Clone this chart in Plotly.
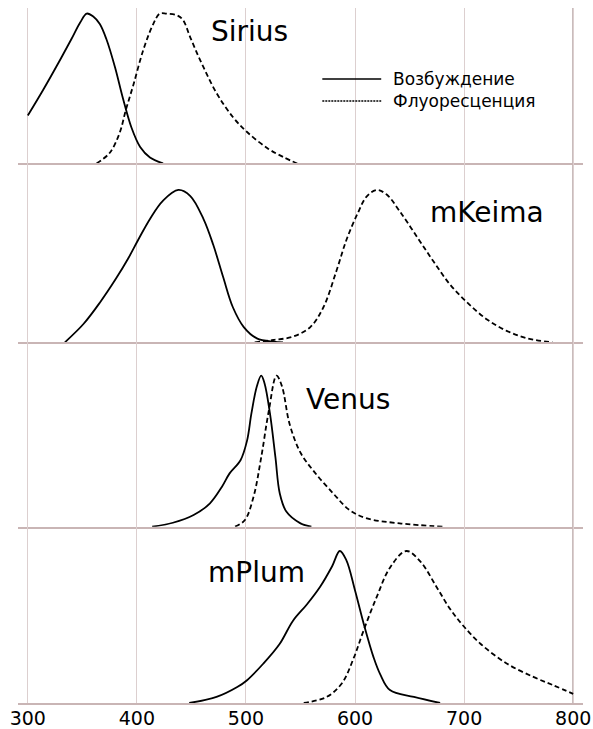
import plotly.graph_objects as go
from plotly.subplots import make_subplots

# Normalised excitation / emission spectra of four fluorescent proteins
proteins = ["Sirius", "mKeima", "Venus", "mPlum"]

sirius_ex_nm = [300, 314, 328, 340, 348, 354, 360, 366, 372, 380, 387, 395, 403, 412, 424]
sirius_ex = [0.32, 0.49, 0.67, 0.83, 0.94, 1.0, 0.98, 0.93, 0.83, 0.64, 0.44, 0.24, 0.11, 0.04, 0.0]
sirius_em_nm = [363, 375, 384, 390, 397, 406, 415, 421, 427, 436, 442, 449, 458, 473, 488, 501, 520, 535, 547]
sirius_em = [0.0, 0.07, 0.20, 0.36, 0.53, 0.76, 0.93, 1.0, 1.0, 0.99, 0.96, 0.84, 0.69, 0.47, 0.31, 0.21, 0.10, 0.04, 0.0]

mkeima_ex_nm = [334, 351, 366, 381, 392, 401, 412, 424, 438, 449, 461, 470, 479, 488, 498, 510, 525, 534]
mkeima_ex = [0.0, 0.12, 0.26, 0.42, 0.55, 0.67, 0.81, 0.93, 1.0, 0.96, 0.81, 0.64, 0.43, 0.23, 0.10, 0.026, 0.004, 0.0]
mkeima_em_nm = [508, 525, 543, 559, 571, 583, 592, 602, 611, 620, 629, 641, 657, 672, 687, 703, 721, 739, 758, 781]
mkeima_em = [0.0, 0.015, 0.037, 0.10, 0.23, 0.47, 0.67, 0.84, 0.96, 1.0, 0.97, 0.86, 0.69, 0.53, 0.38, 0.26, 0.15, 0.075, 0.026, 0.0]

venus_ex_nm = [414, 433, 452, 467, 478, 485, 495, 501, 505, 510, 514, 517, 522, 527, 531, 537, 550, 560]
venus_ex = [0.0, 0.026, 0.077, 0.155, 0.265, 0.353, 0.44, 0.57, 0.75, 0.93, 1.0, 0.95, 0.75, 0.46, 0.22, 0.10, 0.022, 0.0]
venus_em_nm = [490, 499, 507, 514, 521, 528, 533, 540, 550, 563, 580, 595, 611, 641, 681]
venus_em = [0.0, 0.044, 0.20, 0.46, 0.77, 1.0, 0.93, 0.68, 0.49, 0.36, 0.22, 0.11, 0.055, 0.022, 0.0]

mplum_ex_nm = [448, 473, 492, 501, 516, 531, 543, 556, 568, 579, 586, 592, 600, 608, 617, 623, 632, 654, 678]
mplum_ex = [0.0, 0.04, 0.105, 0.15, 0.26, 0.39, 0.54, 0.65, 0.765, 0.90, 1.0, 0.94, 0.74, 0.52, 0.30, 0.19, 0.085, 0.04, 0.0]
mplum_em_nm = [553, 574, 588, 599, 608, 620, 632, 647, 660, 675, 687, 699, 715, 739, 764, 782, 800]
mplum_em = [0.0, 0.04, 0.13, 0.30, 0.48, 0.70, 0.89, 1.0, 0.93, 0.76, 0.62, 0.51, 0.39, 0.26, 0.17, 0.116, 0.06]

tick_values = [300, 400, 500, 600, 700, 800]
legend_labels = ["Возбуждение", "Флуоресценция"]

spectra = [
    (sirius_ex_nm, sirius_ex, sirius_em_nm, sirius_em),
    (mkeima_ex_nm, mkeima_ex, mkeima_em_nm, mkeima_em),
    (venus_ex_nm, venus_ex, venus_em_nm, venus_em),
    (mplum_ex_nm, mplum_ex, mplum_em_nm, mplum_em),
]

# panel layout: vertical domains, y-axis tops and label placement
domains = [[0.7763, 1.0], [0.519, 0.7763], [0.2537, 0.519], [0.0, 0.2537]]
y_tops = [1.037, 1.174, 1.221, 1.16]
label_pos = [(503, 0.88), (721, 0.855), (594, 0.84), (510, 0.86)]

FONT = "DejaVu Sans"
GRID = "#dccfcf"
SEP = "#c9b5b5"
EM_DASH = "5px,3px"

fig = make_subplots(rows=4, cols=1, shared_xaxes=True, vertical_spacing=0)

for i, (exx, exy, emx, emy) in enumerate(spectra):
    row = i + 1
    fig.add_trace(go.Scatter(x=exx, y=exy, mode="lines",
                             line=dict(color="black", width=1.8, shape="spline", smoothing=1.0),
                             showlegend=False, hoverinfo="skip"), row=row, col=1)
    fig.add_trace(go.Scatter(x=emx, y=emy, mode="lines",
                             line=dict(color="black", width=1.8, dash=EM_DASH, shape="spline", smoothing=1.0),
                             showlegend=False, hoverinfo="skip"), row=row, col=1)
    fig.update_yaxes(range=[0, y_tops[i]], domain=domains[i], visible=False,
                     automargin=False, row=row, col=1)
    fig.update_xaxes(range=[291, 809], showgrid=True, gridcolor=GRID, gridwidth=1,
                     tickvals=tick_values, showline=True, linecolor=SEP, linewidth=1.5,
                     zeroline=False, ticks="", automargin=False, row=row, col=1)
    lx, ly = label_pos[i]
    xr = "x" if row == 1 else f"x{row}"
    yr = "y" if row == 1 else f"y{row}"
    fig.add_annotation(x=lx, y=ly, xref=xr, yref=yr, text=proteins[i], showarrow=False,
                       font=dict(family=FONT, size=28, color="black"))

fig.update_xaxes(showticklabels=True, ticklabelstandoff=-3,
                 tickfont=dict(family=FONT, size=19, color="black"), row=4, col=1)

# darker rule at 800 nm across all panels
fig.add_shape(type="line", xref="x4", yref="paper", x0=800, x1=800, y0=0, y1=1,
              line=dict(color="#a08a8a", width=1.5), layer="below")

# hand-drawn key in the top panel
key_y = [0.563, 0.417]
key_dash = ["solid", "2px,1px"]
for lab, ky, kd in zip(legend_labels, key_y, key_dash):
    fig.add_shape(type="line", xref="x", yref="y", x0=570, x1=624, y0=ky, y1=ky,
                  line=dict(color="black", width=1.5, dash=kd))
    fig.add_annotation(x=633, y=ky, xref="x", yref="y", text=lab, showarrow=False,
                       xanchor="left", yanchor="middle",
                       font=dict(family=FONT, size=17, color="black"))

fig.update_layout(
    width=593, height=729,
    margin=dict(l=18, r=10, t=8, b=26),
    plot_bgcolor="white", paper_bgcolor="white",
    showlegend=False,
)

fig.write_html("out.html")
